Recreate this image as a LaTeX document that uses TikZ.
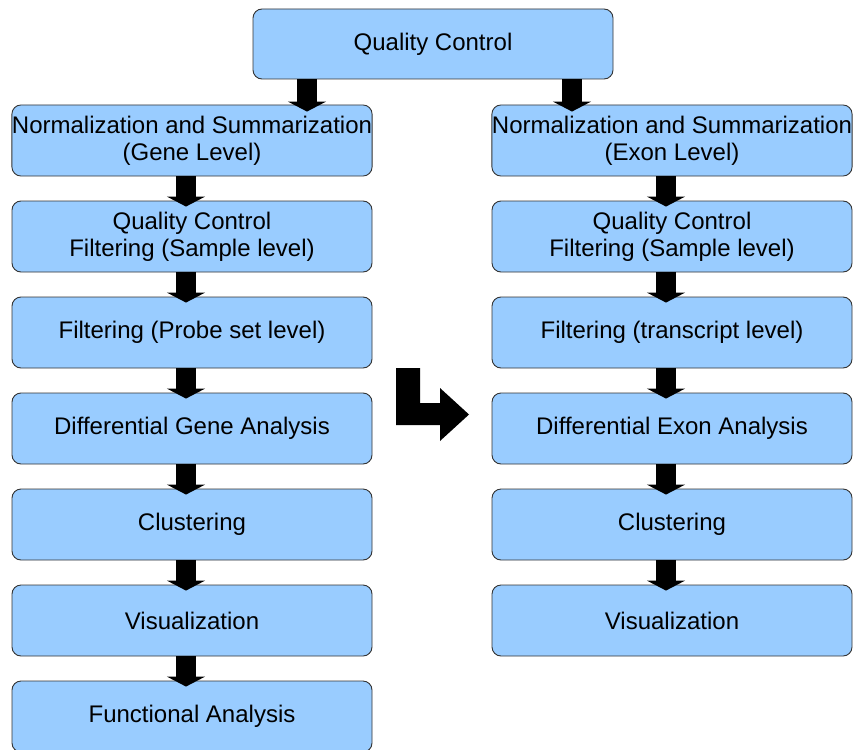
\documentclass[tikz,border=0pt]{standalone}
\usepackage{fontspec}
\setmainfont{Liberation Sans}
\usetikzlibrary{arrows.meta}
\definecolor{boxfill}{HTML}{99CCFF}
\definecolor{boxline}{HTML}{333333}
\begin{document}
\begin{tikzpicture}[x=1pt,y=-1pt,
  box/.style={draw=boxline, line width=0.9pt, fill=boxfill, rounded corners=9pt,
    minimum width=360pt, minimum height=71pt, inner sep=0pt, align=center,
    font=\fontsize{24}{27}\selectfont},
  fat/.style={line width=20pt, -{Triangle[width=38pt,length=10pt]}, black}]
\useasboundingbox (0,0) rectangle (853,749);
\node[box, minimum height=70pt] (qc) at (433,44) {Quality Control};
% left column
\node[box] (l1) at (192,140.5) {Normalization and Summarization\\(Gene Level)};
\node[box] (l2) at (192,236.5) {Quality Control\\Filtering (Sample level)};
\node[box] (l3) at (192,332.5) {Filtering (Probe set level)};
\node[box] (l4) at (192,428.5) {Differential Gene Analysis};
\node[box] (l5) at (192,524.5) {Clustering};
\node[box] (l6) at (192,620.5) {Visualization};
\node[box] (l7) at (192,716.5) {Functional Analysis};
% right column
\node[box] (r1) at (672,140.5) {Normalization and Summarization\\(Exon Level)};
\node[box] (r2) at (672,236.5) {Quality Control\\Filtering (Sample level)};
\node[box] (r3) at (672,332.5) {Filtering (transcript level)};
\node[box] (r4) at (672,428.5) {Differential Exon Analysis};
\node[box] (r5) at (672,524.5) {Clustering};
\node[box] (r6) at (672,620.5) {Visualization};
% arrows from top
\draw[fat] (qc.south -| 307,0) -- ([yshift=-7pt]l1.north -| 307,0);
\draw[fat] (qc.south -| 572,0) -- ([yshift=-7pt]r1.north -| 572,0);
\foreach \a/\b in {l1/l2,l2/l3,l3/l4,l4/l5,l5/l6,l6/l7,r1/r2,r2/r3,r3/r4,r4/r5,r5/r6}{
  \draw[fat] ([xshift=-6pt]\a.south) -- ([xshift=-6pt,yshift=-6pt]\b.north);
}
% bent arrow
\fill[black] (396,368) -- (420,368) -- (420,403) -- (440,403) -- (440,388) -- (469,414.5) -- (440,441) -- (440,425) -- (396,425) -- cycle;
\end{tikzpicture}
\end{document}
